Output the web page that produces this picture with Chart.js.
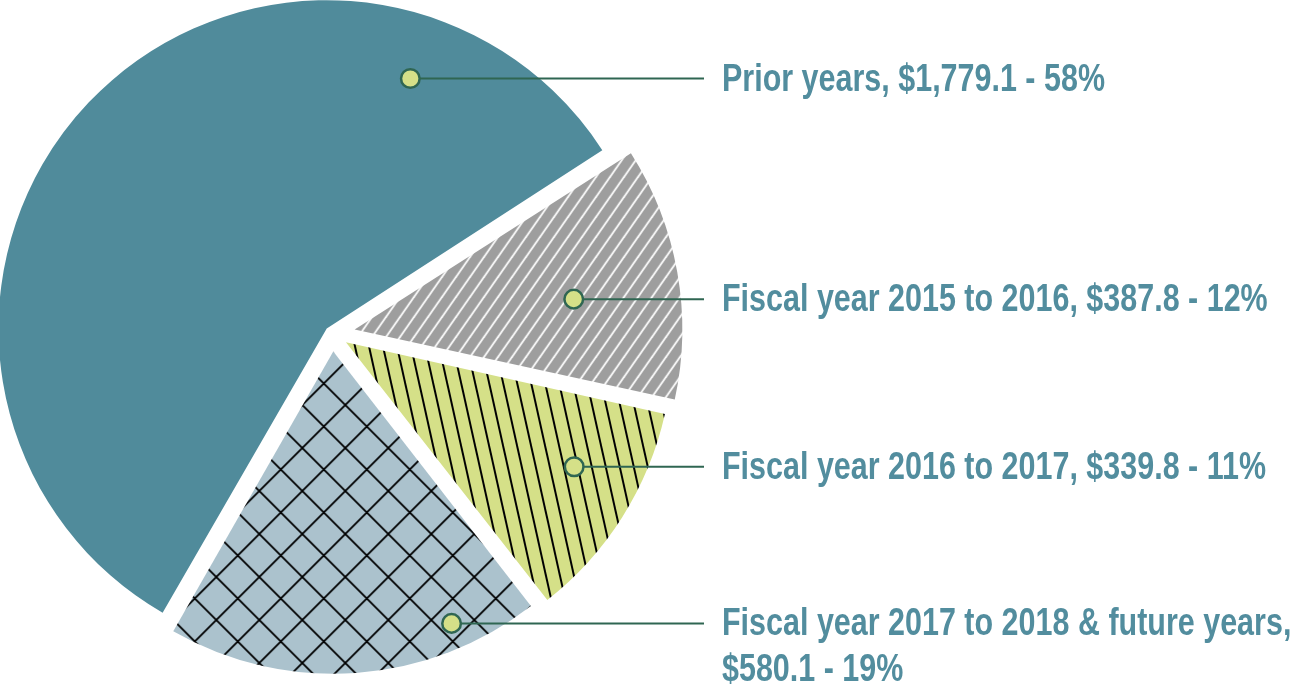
<!DOCTYPE html>
<html>
<head>
<meta charset="utf-8">
<script src="https://cdn.jsdelivr.net/npm/chart.js@4.4.0/dist/chart.umd.min.js"></script>
<style>
  html, body { margin: 0; padding: 0; background: #fff; }
  #wrap { width: 1294px; height: 690px; }
</style>
</head>
<body>
<div id="wrap"><canvas id="myChart" width="1294" height="690"></canvas></div>
<script>
// values
const categories = ['Prior years', 'Fiscal year 2015 to 2016', 'Fiscal year 2016 to 2017', 'Fiscal year 2017 to 2018 & future years'];
const amounts = [1779.1, 387.8, 339.8, 580.1];
const shares = [58, 12, 11, 19];

// callout dot inside each slice: [fraction of sweep, fraction of radius]
const dotSpots = [[0.813, 0.803], [0.549, 0.675], [0.406, 0.795], [0.212, 0.92]];

// build a repeating hatch tile
function hatch(bg, fg, w, h, lw, kind) {
    const c = document.createElement('canvas');
    c.width = w; c.height = h;
    const g = c.getContext('2d');
    g.fillStyle = bg;
    g.fillRect(0, 0, w, h);
    g.strokeStyle = fg;
    g.lineWidth = lw;
    for (let k = -1; k <= 1; k++) {
        g.beginPath();
        if (kind === '/' || kind === 'x') {
            g.moveTo(k * w - w, 2 * h); g.lineTo(k * w + 2 * w, -h);
        }
        if (kind === '\\' || kind === 'x') {
            g.moveTo(k * w - w, -h); g.lineTo(k * w + 2 * w, 2 * h);
        }
        g.stroke();
    }
    return g.createPattern(c, 'repeat');
}

const fills = [
    '#508b9b',
    hatch('#9e9e9e', '#ffffff', 14, 20, 1.8, '/'),
    hatch('#d5e088', '#000000', 14, 63, 2, '\\'),
    hatch('#abc2cd', '#000000', 43, 43, 1.8, 'x')
];

function labelLines(i, ctx, squeeze) {
    const money = '$' + amounts[i].toLocaleString('en-US', {minimumFractionDigits: 1});
    const full = `${categories[i]}, ${money} - ${shares[i]}%`;
    if (ctx.measureText(full).width * squeeze < 1294 - 726) return [full];
    return [`${categories[i]},`, `${money} - ${shares[i]}%`];
}

const callouts = {
    id: 'callouts',
    afterDatasetsDraw(chart) {
        const ctx = chart.ctx;
        const arcs = chart.getDatasetMeta(0).data;
        ctx.save();
        ctx.font = 'bold 39px "Liberation Sans Narrow", "Arial Narrow", "Liberation Sans", sans-serif';
        ctx.textBaseline = 'alphabetic';
        const squeeze = 383 / ctx.measureText(`${categories[0]}, $1,779.1 - ${shares[0]}%`).width;
        arcs.forEach((arc, i) => {
            const p = arc.getProps(['x', 'y', 'startAngle', 'endAngle', 'outerRadius', 'circumference']);
            const off = (arc.options.offset || 0) / 4;
            const mid = (p.startAngle + p.endAngle) / 2;
            const cx = p.x + Math.cos(mid) * off;
            const cy = p.y + Math.sin(mid) * off;
            const r = p.outerRadius + off * (1 - Math.sin(Math.min(Math.PI, p.circumference)));
            const a = p.startAngle + dotSpots[i][0] * (p.endAngle - p.startAngle);
            const dx = cx + Math.cos(a) * r * dotSpots[i][1];
            const dy = cy + Math.sin(a) * r * dotSpots[i][1];

            ctx.strokeStyle = '#2f6652';
            ctx.lineWidth = 2;
            ctx.beginPath();
            ctx.moveTo(dx, dy);
            ctx.lineTo(704, dy);
            ctx.stroke();

            ctx.beginPath();
            ctx.arc(dx, dy, 9.3, 0, Math.PI * 2);
            ctx.fillStyle = '#d5e088';
            ctx.fill();
            ctx.lineWidth = 2.5;
            ctx.stroke();

            ctx.fillStyle = '#528d9e';
            labelLines(i, ctx, squeeze).forEach((ln, j) => {
                ctx.save();
                ctx.translate(722, dy + 12 + j * 46);
                ctx.scale(squeeze, 1);
                ctx.fillText(ln, 0, 0);
                ctx.restore();
            });
        });
        ctx.restore();
    }
};

const ctx = document.getElementById('myChart');
new Chart(ctx, {
    type: 'pie',
    data: {
        labels: categories,
        datasets: [{
            data: amounts,
            backgroundColor: fills,
            borderWidth: 0,
            offset: [29, 92, 66, 72],
            hoverOffset: 0,
            clip: false
        }]
    },
    options: {
        responsive: false,
        animation: false,
        events: [],
        rotation: -150.2,
        radius: 321,
        layout: { padding: { left: 0, top: 0, right: 630, bottom: 23 } },
        plugins: { legend: { display: false }, tooltip: { enabled: false } }
    },
    plugins: [callouts]
});
</script>
</body>
</html>
